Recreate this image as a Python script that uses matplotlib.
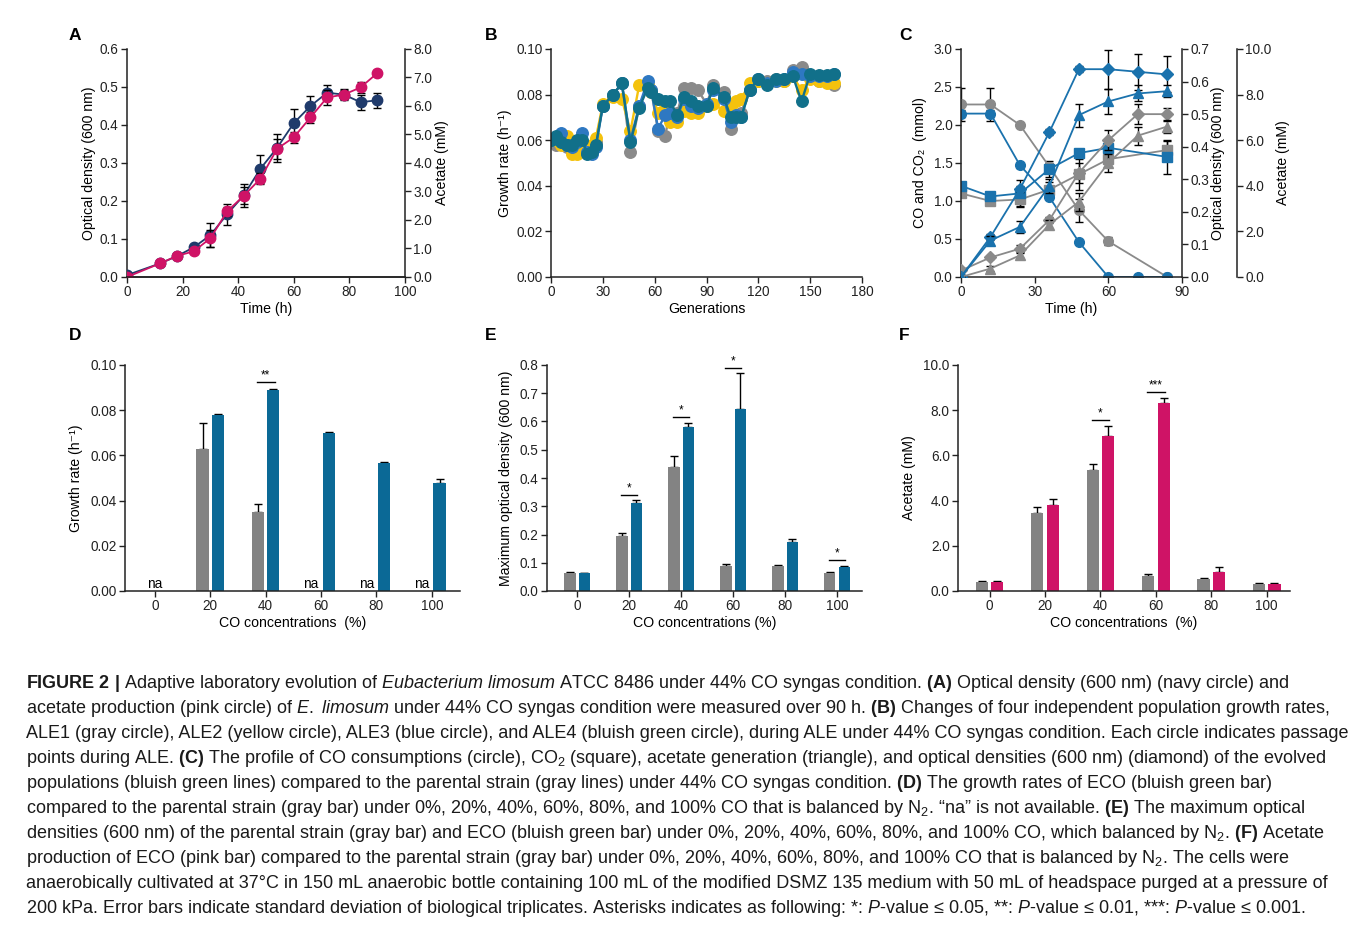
import numpy as np
import matplotlib
matplotlib.use('Agg')
import matplotlib.pyplot as plt

W, H = 1357, 926

# ---- A: growth and acetate of E. limosum
time_a = [0, 12, 18, 24, 30, 36, 42, 48, 54, 60, 66, 72, 78, 84, 90]
od_a = [0.005, 0.036, 0.055, 0.078, 0.11, 0.165, 0.215, 0.285, 0.34, 0.405, 0.45, 0.485, 0.48, 0.46, 0.465]
od_a_err = [0.003, 0.004, 0.004, 0.006, 0.032, 0.028, 0.03, 0.037, 0.037, 0.037, 0.026, 0.02, 0.015, 0.02, 0.02]
acetate_a = [0.0, 0.48, 0.74, 0.9, 1.36, 2.3, 2.85, 3.45, 4.5, 4.9, 5.6, 6.3, 6.4, 6.65, 7.15]
acetate_a_err = [0.03, 0.05, 0.05, 0.1, 0.3, 0.15, 0.3, 0.2, 0.35, 0.2, 0.2, 0.25, 0.15, 0.2, 0.1]

# ---- B: ALE growth rates
generations = [0, 3, 6, 9, 12, 15, 18, 21, 24, 26, 30, 36, 41, 46, 51, 56, 58, 62, 66, 69, 73, 77,
               81, 85, 90, 94, 100, 104, 107, 110, 115, 120, 125, 130, 135, 140, 145, 150, 155, 160, 164]
ale1 = [0.060, 0.058, 0.060, 0.057, 0.058, 0.058, 0.059, 0.055, 0.055, 0.059, 0.075, 0.080, 0.085, 0.055,
        0.075, 0.084, 0.082, 0.064, 0.062, 0.072, 0.072, 0.083, 0.083, 0.082, 0.076, 0.084, 0.081, 0.065,
        0.071, 0.072, 0.082, 0.086, 0.086, 0.087, 0.086, 0.091, 0.092, 0.088, 0.086, 0.086, 0.084]
ale2 = [0.060, 0.060, 0.058, 0.062, 0.054, 0.054, 0.057, 0.057, 0.058, 0.061, 0.076, 0.079, 0.078, 0.064,
        0.084, 0.084, 0.081, 0.072, 0.074, 0.068, 0.068, 0.073, 0.072, 0.072, 0.075, 0.076, 0.073, 0.075,
        0.077, 0.078, 0.085, 0.086, 0.085, 0.086, 0.086, 0.088, 0.082, 0.087, 0.086, 0.085, 0.085]
ale3 = [0.060, 0.061, 0.063, 0.058, 0.057, 0.059, 0.063, 0.055, 0.054, 0.057, 0.075, 0.080, 0.085, 0.060,
        0.075, 0.086, 0.082, 0.065, 0.071, 0.072, 0.070, 0.078, 0.075, 0.074, 0.076, 0.082, 0.078, 0.068,
        0.071, 0.070, 0.082, 0.087, 0.085, 0.086, 0.087, 0.090, 0.089, 0.088, 0.088, 0.088, 0.089]
ale4 = [0.060, 0.062, 0.059, 0.058, 0.058, 0.060, 0.060, 0.054, 0.055, 0.058, 0.075, 0.080, 0.085, 0.059,
        0.074, 0.083, 0.081, 0.078, 0.077, 0.077, 0.071, 0.079, 0.077, 0.075, 0.075, 0.083, 0.079, 0.070,
        0.070, 0.070, 0.082, 0.087, 0.084, 0.087, 0.087, 0.088, 0.077, 0.089, 0.0885, 0.0885, 0.089]

# ---- C: gas / OD / acetate profiles
t_co_evo = [0, 12, 24, 36, 48, 60, 72, 84]
co_evo = [2.15, 2.15, 1.47, 1.05, 0.46, 0.0, 0.0, 0.0]
co_evo_err = [0.05, 0.05, 0.03, 0.03, 0.02, 0.0, 0.0, 0.0]
t_co_par = [0, 12, 24, 36, 48, 60, 84]
co_par = [2.27, 2.27, 2.0, 1.45, 0.88, 0.47, 0.0]
co_par_err = [0.22, 0.22, 0.03, 0.05, 0.15, 0.05, 0.0]
t_co2 = [0, 12, 24, 36, 48, 60, 84]
co2_evo = [1.2, 1.06, 1.1, 1.42, 1.63, 1.7, 1.58]
co2_evo_err = [0.05, 0.04, 0.18, 0.1, 0.05, 0.08, 0.22]
co2_par = [1.1, 1.0, 1.02, 1.15, 1.35, 1.55, 1.67]
co2_par_err = [0.03, 0.03, 0.08, 0.1, 0.2, 0.1, 0.12]
t_c = [0, 12, 24, 36, 48, 60, 72, 84]
od_evo = [0.0, 0.123, 0.27, 0.445, 0.638, 0.638, 0.63, 0.622]
od_evo_err = [0.005, 0.01, 0.01, 0.01, 0.01, 0.06, 0.055, 0.055]
od_par = [0.02, 0.06, 0.087, 0.175, 0.32, 0.42, 0.50, 0.50]
od_par_err = [0.005, 0.005, 0.01, 0.01, 0.03, 0.03, 0.03, 0.02]
ac_evo = [0.0, 1.6, 2.2, 4.0, 7.1, 7.7, 8.05, 8.15]
ac_evo_err = [0.05, 0.2, 0.25, 0.3, 0.5, 0.55, 0.35, 0.25]
ac_par = [0.0, 0.37, 0.95, 2.3, 3.3, 5.0, 6.2, 6.6]
ac_par_err = [0.05, 0.1, 0.1, 0.2, 0.4, 0.4, 0.4, 0.3]

# ---- D/E/F: bars vs CO concentration
co_levels = ['0', '20', '40', '60', '80', '100']
gr_parent = [np.nan, 0.063, 0.035, np.nan, np.nan, np.nan]
gr_parent_err = [0, 0.0115, 0.0035, 0, 0, 0]
gr_eco = [np.nan, 0.078, 0.089, 0.070, 0.0565, 0.048]
gr_eco_err = [0, 0.0003, 0.0006, 0.0003, 0.0006, 0.0015]
gr_na = ['0', '60', '80', '100']
gr_sig = {'40': (0.0923, '**')}

maxod_parent = [0.065, 0.195, 0.44, 0.088, 0.088, 0.065]
maxod_parent_err = [0.002, 0.01, 0.038, 0.006, 0.004, 0.002]
maxod_eco = [0.063, 0.31, 0.579, 0.645, 0.175, 0.085]
maxod_eco_err = [0.002, 0.012, 0.017, 0.125, 0.01, 0.003]
maxod_sig = {'20': (0.339, '*'), '40': (0.615, '*'), '60': (0.788, '*'), '100': (0.109, '*')}

ace_parent = [0.42, 3.45, 5.35, 0.65, 0.55, 0.33]
ace_parent_err = [0.02, 0.25, 0.28, 0.1, 0.02, 0.02]
ace_eco = [0.42, 3.82, 6.85, 8.3, 0.85, 0.33]
ace_eco_err = [0.02, 0.27, 0.47, 0.22, 0.2, 0.02]
ace_sig = {'40': (7.56, '*'), '60': (8.79, '***')}

NAVY = '#1f3a6b'
PINK = '#cf1366'
GRAY = '#8a8a8a'
YELLOW = '#f4c20d'
BLUE = '#2e78c2'
TEAL = '#11708a'
CBLUE = '#1a72ad'
BARBLUE = '#0b6996'
BARGRAY = '#838383'
INK = '#222222'
TICK_FS = 9.8
LAB_FS = 10.2

plt.rcParams['font.family'] = ['Liberation Sans', 'DejaVu Sans']
plt.rcParams['mathtext.fontset'] = 'custom'
plt.rcParams['mathtext.rm'] = 'Liberation Sans'
plt.rcParams['mathtext.it'] = 'Liberation Sans:italic'
plt.rcParams['mathtext.bf'] = 'Liberation Sans:bold'

fig = plt.figure(figsize=(W / 100, H / 100), dpi=100)


def px_axes(l, t, r, b):
    return fig.add_axes([l / W, 1 - b / H, (r - l) / W, (b - t) / H])


def style(ax, right=False):
    ax.spines['top'].set_visible(False)
    ax.spines['right'].set_visible(right)
    for s in ax.spines.values():
        s.set_linewidth(1.1)
        s.set_color(INK)
    ax.tick_params(direction='out', length=4, width=1.0, labelsize=TICK_FS, colors=INK, pad=2)
    ax.set_facecolor('none')


def letter(x, y, s):
    fig.text(x / W, 1 - y / H, s, fontsize=12.5, fontweight='bold', va='center', ha='left')


eb = dict(ecolor='black', elinewidth=1.0, capsize=3.2, capthick=1.0)

# ================= A
ax_a = px_axes(127, 49, 405, 277)
style(ax_a)
ax_a.errorbar(time_a, od_a, yerr=od_a_err, fmt='-o', color=NAVY, ms=7.5, lw=1.3, **eb, zorder=3)
ax_a.set_xlim(0, 100)
ax_a.set_ylim(0, 0.6)
ax_a.set_xticks([0, 20, 40, 60, 80, 100])
ax_a.set_yticks(np.arange(0, 0.61, 0.1))
ax_a.set_yticklabels(['%.1f' % v for v in np.arange(0, 0.61, 0.1)])
ax_a.set_xlabel('Time (h)', fontsize=LAB_FS, labelpad=2)
ax_a.set_ylabel('Optical density (600 nm)', fontsize=LAB_FS, labelpad=3)
ax_a2 = ax_a.twinx()
style(ax_a2, right=True)
ax_a2.spines['left'].set_visible(False)
ax_a2.errorbar(time_a, acetate_a, yerr=acetate_a_err, fmt='-o', color=PINK, ms=7.5, lw=1.3, **eb)
ax_a2.set_ylim(0, 8)
ax_a2.set_yticks(np.arange(0, 8.1, 1))
ax_a2.set_yticklabels(['%.1f' % v for v in np.arange(0, 8.1, 1)])
ax_a2.set_ylabel('Acetate (mM)', fontsize=LAB_FS, labelpad=2)
ax_a2.set_xlim(0, 100)
letter(69, 35, 'A')

# ================= B
ax_b = px_axes(551, 49, 862, 277)
style(ax_b)
for ys, c in [(ale1, GRAY), (ale2, YELLOW), (ale3, BLUE), (ale4, TEAL)]:
    ax_b.plot(generations, ys, '-o', color=c, ms=8.3, lw=1.7)
ax_b.set_xlim(0, 180)
ax_b.set_ylim(0, 0.10)
ax_b.set_xticks(range(0, 181, 30))
ax_b.set_yticks(np.arange(0, 0.101, 0.02))
ax_b.set_yticklabels(['%.2f' % v for v in np.arange(0, 0.101, 0.02)])
ax_b.set_xlabel('Generations', fontsize=LAB_FS, labelpad=2)
ax_b.set_ylabel('Growth rate (h\u207b\u00b9)', fontsize=LAB_FS, labelpad=3)
letter(485, 35, 'B')

# ================= C
ax_c = px_axes(961, 49, 1182, 277)
style(ax_c)
ax_od = ax_c.twinx()
ax_ac = ax_c.twinx()
style(ax_od, right=True)
style(ax_ac, right=True)
for a in (ax_od, ax_ac):
    a.spines['left'].set_visible(False)
    a.spines['bottom'].set_visible(False)
ax_ac.spines['right'].set_position(('axes', (1237 - 961) / (1182 - 961)))

ms_c = 7
ax_c.errorbar(t_co_par, co_par, yerr=co_par_err, fmt='-o', color=GRAY, ms=ms_c, lw=1.3, **eb)
ax_c.errorbar(t_co2, co2_par, yerr=co2_par_err, fmt='-s', color=GRAY, ms=ms_c, lw=1.3, **eb)
ax_c.errorbar(t_co_evo, co_evo, yerr=co_evo_err, fmt='-o', color=CBLUE, ms=ms_c, lw=1.3, **eb)
ax_c.errorbar(t_co2, co2_evo, yerr=co2_evo_err, fmt='-s', color=CBLUE, ms=ms_c, lw=1.3, **eb)
ax_od.errorbar(t_c, od_par, yerr=od_par_err, fmt='-D', color=GRAY, ms=6, lw=1.3, **eb)
ax_od.errorbar(t_c, od_evo, yerr=od_evo_err, fmt='-D', color=CBLUE, ms=6, lw=1.3, **eb)
ax_ac.errorbar(t_c, ac_par, yerr=ac_par_err, fmt='-^', color=GRAY, ms=ms_c, lw=1.3, **eb)
ax_ac.errorbar(t_c, ac_evo, yerr=ac_evo_err, fmt='-^', color=CBLUE, ms=ms_c, lw=1.3, **eb)

for a in (ax_c, ax_od, ax_ac):
    a.set_xlim(0, 90)
ax_c.set_xticks([0, 30, 60, 90])
ax_c.set_ylim(0, 3.0)
ax_c.set_yticks(np.arange(0, 3.01, 0.5))
ax_c.set_yticklabels(['%.1f' % v for v in np.arange(0, 3.01, 0.5)])
ax_od.set_ylim(0, 0.7)
ax_od.set_yticks(np.arange(0, 0.71, 0.1))
ax_od.set_yticklabels(['%.1f' % v for v in np.arange(0, 0.71, 0.1)])
ax_ac.set_ylim(0, 10)
ax_ac.set_yticks(np.arange(0, 10.1, 2))
ax_ac.set_yticklabels(['%.1f' % v for v in np.arange(0, 10.1, 2)])
ax_c.set_xlabel('Time (h)', fontsize=LAB_FS, labelpad=2)
ax_c.set_ylabel('CO and CO\u2082  (mmol)', fontsize=LAB_FS, labelpad=5)
ax_od.set_ylabel('Optical density (600 nm)', fontsize=LAB_FS, labelpad=1)
ax_ac.set_ylabel('Acetate (mM)', fontsize=LAB_FS, labelpad=3)
letter(899, 35, 'C')


# ================= D/E/F bars
def bar_panel(ax, parent, parent_err, eco, eco_err, color, sig, xlim):
    style(ax)
    idx = np.arange(len(co_levels))
    off, wd = 0.14, 0.22
    p = np.array(parent, dtype=float)
    e = np.array(eco, dtype=float)
    mp = ~np.isnan(p)
    me = ~np.isnan(e)
    ax.bar(idx[mp] - off, p[mp], width=wd, color=BARGRAY, zorder=2)
    ax.bar(idx[me] + off, e[me], width=wd, color=color, zorder=2)
    pe = np.array(parent_err)[mp]
    ee = np.array(eco_err)[me]
    ax.errorbar(idx[mp] - off, p[mp], yerr=[np.zeros_like(pe), pe], fmt='none', zorder=1, **eb)
    ax.errorbar(idx[me] + off, e[me], yerr=[np.zeros_like(ee), ee], fmt='none', zorder=1, **eb)
    for lvl, (yv, star) in sig.items():
        i = co_levels.index(lvl)
        ax.plot([i - off - 0.02, i + off + 0.02], [yv, yv], color='black', lw=1.0)
        ax.annotate(star, (i, yv), xytext=(0, 0.5), textcoords='offset points',
                    ha='center', va='bottom', fontsize=8.5)
    ax.set_xticks(idx)
    ax.set_xticklabels(co_levels)
    ax.set_xlim(*xlim)


ax_d = px_axes(125, 365, 460, 591)
ax_d.set_ylim(0, 0.10)
bar_panel(ax_d, gr_parent, gr_parent_err, gr_eco, gr_eco_err, BARBLUE, gr_sig, (-0.54, 5.51))
ax_d.set_yticks(np.arange(0, 0.101, 0.02))
ax_d.set_yticklabels(['%.2f' % v for v in np.arange(0, 0.101, 0.02)])
for lvl in gr_na:
    i = co_levels.index(lvl)
    ax_d.text(i if i == 0 else i - 0.18, 0.0, 'na', ha='center', va='bottom', fontsize=TICK_FS)
ax_d.set_xlabel('CO concentrations  (%)', fontsize=LAB_FS, labelpad=2)
ax_d.set_ylabel('Growth rate (h\u207b\u00b9)', fontsize=LAB_FS, labelpad=5)
letter(69, 335, 'D')

ax_e = px_axes(547, 365, 862, 591)
ax_e.set_ylim(0, 0.8)
bar_panel(ax_e, maxod_parent, maxod_parent_err, maxod_eco, maxod_eco_err, BARBLUE, maxod_sig, (-0.58, 5.48))
ax_e.set_yticks(np.arange(0, 0.81, 0.1))
ax_e.set_yticklabels(['%.1f' % v for v in np.arange(0, 0.81, 0.1)])
ax_e.set_xlabel('CO concentrations (%)', fontsize=LAB_FS, labelpad=2)
ax_e.set_ylabel('Maximum optical density (600 nm)', fontsize=LAB_FS, labelpad=5)
letter(485, 335, 'E')

ax_f = px_axes(958, 365, 1290, 591)
ax_f.set_ylim(0, 10)
bar_panel(ax_f, ace_parent, ace_parent_err, ace_eco, ace_eco_err, PINK, ace_sig, (-0.57, 5.42))
ax_f.set_yticks(np.arange(0, 10.1, 2))
ax_f.set_yticklabels(['%.1f' % v for v in np.arange(0, 10.1, 2)])
ax_f.set_xlabel('CO concentrations  (%)', fontsize=LAB_FS, labelpad=2)
ax_f.set_ylabel('Acetate (mM)', fontsize=LAB_FS, labelpad=5)
letter(899, 335, 'F')

# ================= caption
caption = [
    r"$\mathbf{FIGURE\ 2\ |}$ Adaptive laboratory evolution of $\mathit{Eubacterium}$ $\mathit{limosum}$ ATCC 8486 under 44% CO syngas condition. $\mathbf{(A)}$ Optical density (600 nm) (navy circle) and",
    r"acetate production (pink circle) of $\mathit{E.}$ $\mathit{limosum}$ under 44% CO syngas condition were measured over 90 h. $\mathbf{(B)}$ Changes of four independent population growth rates,",
    r"ALE1 (gray circle), ALE2 (yellow circle), ALE3 (blue circle), and ALE4 (bluish green circle), during ALE under 44% CO syngas condition. Each circle indicates passage",
    r"points during ALE. $\mathbf{(C)}$ The profile of CO consumptions (circle), CO$_2$ (square), acetate generation (triangle), and optical densities (600 nm) (diamond) of the evolved",
    r"populations (bluish green lines) compared to the parental strain (gray lines) under 44% CO syngas condition. $\mathbf{(D)}$ The growth rates of ECO (bluish green bar)",
    r"compared to the parental strain (gray bar) under 0%, 20%, 40%, 60%, 80%, and 100% CO that is balanced by N$_2$. “na” is not available. $\mathbf{(E)}$ The maximum optical",
    r"densities (600 nm) of the parental strain (gray bar) and ECO (bluish green bar) under 0%, 20%, 40%, 60%, 80%, and 100% CO, which balanced by N$_2$. $\mathbf{(F)}$ Acetate",
    r"production of ECO (pink bar) compared to the parental strain (gray bar) under 0%, 20%, 40%, 60%, 80%, and 100% CO that is balanced by N$_2$. The cells were",
    r"anaerobically cultivated at 37°C in 150 mL anaerobic bottle containing 100 mL of the modified DSMZ 135 medium with 50 mL of headspace purged at a pressure of",
    r"200 kPa. Error bars indicate standard deviation of biological triplicates. Asterisks indicates as following: *: $\mathit{P}$-value ≤ 0.05, **: $\mathit{P}$-value ≤ 0.01, ***: $\mathit{P}$-value ≤ 0.001.",
]
for k, line in enumerate(caption):
    fig.text(26 / W, 1 - (683 + 25.1 * k) / H, line, fontsize=12.95,
             family=['Liberation Sans', 'DejaVu Sans'], va='center', ha='left', color='#1a1a1a')

fig.savefig('out.png', dpi=100, facecolor='white')
